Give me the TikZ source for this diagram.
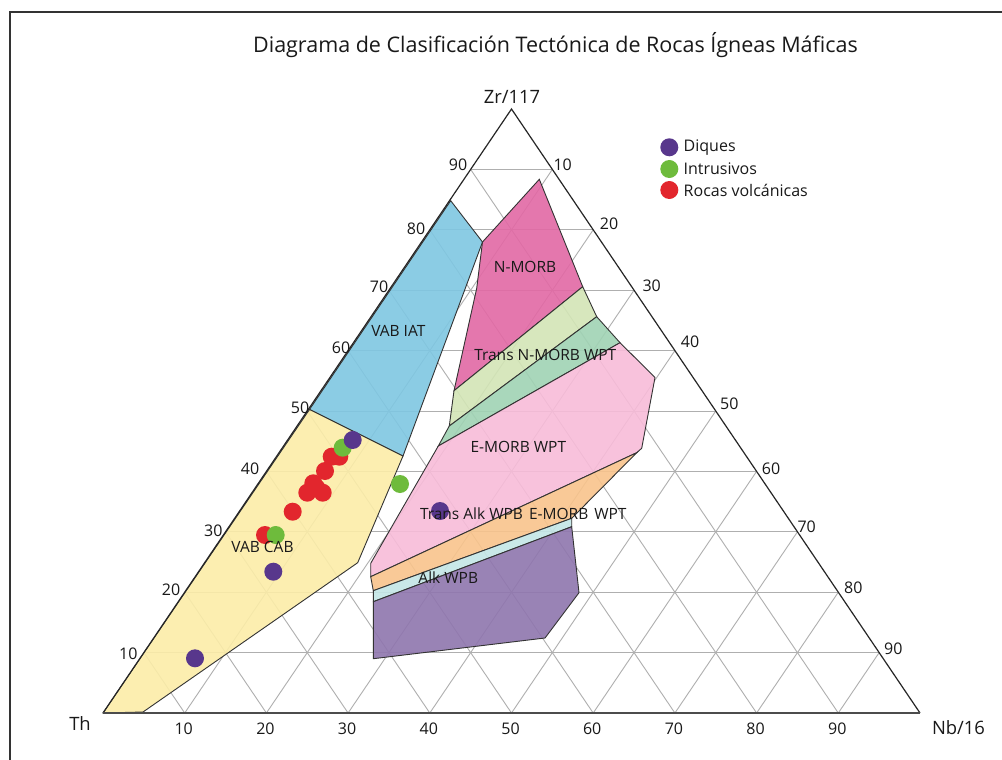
\documentclass[tikz,border=0pt]{standalone}
\usepackage{fontspec}
\setmainfont{Open Sans}
\usetikzlibrary{calc}
\definecolor{cblue}{RGB}{127,199,226}
\definecolor{cyellow}{RGB}{252,237,168}
\definecolor{cmag}{RGB}{226,105,165}
\definecolor{clgreen}{RGB}{211,229,182}
\definecolor{cgreen}{RGB}{160,211,180}
\definecolor{cpink}{RGB}{248,188,217}
\definecolor{corange}{RGB}{249,196,140}
\definecolor{ccyan}{RGB}{196,230,230}
\definecolor{cpurple}{RGB}{143,118,174}
\definecolor{dpurple}{RGB}{88,55,140}
\definecolor{dgreen}{RGB}{110,187,60}
\definecolor{dred}{RGB}{226,38,45}
\definecolor{gridc}{RGB}{175,175,175}
\tikzset{
  region/.style={draw=black!80, line width=0.9pt, fill opacity=0.9},
  gridline/.style={draw=gridc, line width=0.9pt},
  tick/.style={font=\fontsize{16}{18}\selectfont, text=black!90, inner sep=0pt},
  lab/.style={font=\fontsize{15.5}{18}\selectfont, text=black!90, inner sep=0pt},
  axislab/.style={font=\fontsize{18.4}{20}\selectfont, text=black!90, inner sep=0pt},
  dot/.style={circle, inner sep=0pt, minimum size=18pt},
  leg/.style={font=\fontsize{16}{18}\selectfont, text=black!90, inner sep=0pt, anchor=west},
}
\begin{document}
\begin{tikzpicture}[x=1pt,y=-1pt]
\useasboundingbox (0,0) rectangle (1002,760);
\fill[white] (0,0) rectangle (1002,760);
% frame
\draw[black!80, line width=1.6pt] (10,760) -- (10,12) -- (1002,12);
% title
\node[font=\fontsize{21.5}{24}\selectfont, text=black!90, inner sep=0pt] (title) at (555.5,45) {Diagrama de Clasificación Tectónica de Rocas Ígneas Máficas};
% triangle corners
\coordinate (Th) at (103,713);
\coordinate (Nb) at (920,713);
\coordinate (Zr) at (511.5,109);
% grid
\foreach \i in {1,...,9} {
  \draw[gridline] ($(Th)!\i/10!(Zr)$) -- ($(Nb)!\i/10!(Zr)$);
  \draw[gridline] ($(Th)!\i/10!(Nb)$) -- ($(Th)!\i/10!(Zr)$);
  \draw[gridline] ($(Nb)!\i/10!(Th)$) -- ($(Nb)!\i/10!(Zr)$);
}
% regions
\filldraw[region, fill=cblue] (450.7,200.7) -- (482.5,242) -- (403,456) -- (309.5,409.5) -- cycle;
\filldraw[region, fill=cyellow] (103,713) -- (143,712) -- (357.7,562.7) -- (403,456) -- (309.5,409.5) -- cycle;
\filldraw[region, fill=cmag] (539.3,179.3) -- (482.5,242) -- (476.7,288.3) -- (454,390.7) -- (582.7,286.7) -- cycle;
\filldraw[region, fill=clgreen] (454,390.7) -- (582.7,286.7) -- (596.7,316.7) -- (449.3,426) -- cycle;
\filldraw[region, fill=cgreen] (449.3,426) -- (596.7,316.7) -- (620,342.7) -- (438.3,446) -- cycle;
\filldraw[region, fill=cpink] (438.3,446) -- (620,342.7) -- (655,377.5) -- (641.7,448.3) -- (636.7,452.7) -- (370.7,576.7) -- (370.7,563.3) -- cycle;
\filldraw[region, fill=corange] (370.7,576.7) -- (636.7,452.7) -- (571.7,518.3) -- (373.3,590.7) -- cycle;
\filldraw[region, fill=ccyan] (373.3,590.7) -- (571.7,518.3) -- (571.7,526.7) -- (373.3,601.7) -- cycle;
\filldraw[region, fill=cpurple] (373.3,601.7) -- (571.7,526.7) -- (579,592.7) -- (545,638) -- (373.3,658.7) -- cycle;
% triangle
\draw[black!85, line width=1.2pt, line join=miter] (Th) -- (Zr) -- (Nb);
\draw[black!70, line width=2pt] (Th) -- (Nb);
% axis labels
\node[axislab] (zrl) at (512,97) {Zr/117};
\node[axislab] (thl) at (80,724) {Th};
\node[axislab] (nbl) at (958.5,728) {Nb/16};
% left ticks
\node[tick] (l90) at (458,165) {90};
\node[tick] (l80) at (416,229) {80};
\node[tick] (l70) at (379,287) {70};
\node[tick] (l60) at (341,348) {60};
\node[tick] (l50) at (300,408) {50};
\node[tick] (l40) at (250,469) {40};
\node[tick] (l30) at (213.3,530.7) {30};
\node[tick] (l20) at (171,589.3) {20};
\node[tick] (l10) at (128.3,654) {10};
% right ticks
\node[tick] (r10) at (562.7,165) {10};
\node[tick] (r20) at (609,224) {20};
\node[tick] (r30) at (651.7,285.7) {30};
\node[tick] (r40) at (690,341.7) {40};
\node[tick] (r50) at (729.3,403.3) {50};
\node[tick] (r60) at (771,468.3) {60};
\node[tick] (r70) at (806.7,526.7) {70};
\node[tick] (r80) at (853.3,587.3) {80};
\node[tick] (r90) at (893.3,648.3) {90};
% bottom ticks
\foreach \i in {1,...,9} {
  \path ($(Th)!\i/10!(Nb)$) ++(-1,16) node[tick] (b\i) {\the\numexpr\i*10\relax};
}
% data points
\foreach \x/\y [count=\k] in {331.7/456.7, 339.3/456.7, 325/471, 313.3/483.3, 316.5/488, 307.3/492.7, 322.7/492.7, 292.7/511.7, 265/535} {
  \node[dot, fill=dred] (red\k) at (\x,\y) {};
}
\foreach \x/\y [count=\k] in {342.7/447.7, 275.7/535, 400/484} {
  \node[dot, fill=dgreen] (grn\k) at (\x,\y) {};
}
\foreach \x/\y [count=\k] in {352.7/440, 273.3/571.7, 195/658.3, 440/511} {
  \node[dot, fill=dpurple] (pur\k) at (\x,\y) {};
}
% region labels
\node[lab] (vabiat) at (398.3,331) {VAB IAT};
\node[lab] (nmorb) at (525,267.3) {N-MORB};
\node[lab] (tnmorb) at (545.3,355) {Trans N-MORB WPT};
\node[lab] (emorb) at (518.3,446.7) {E-MORB WPT};
\node[lab] (talk) at (523.3,513.3) {Trans Alk WPB\hspace{6pt}E-MORB\hspace{6pt}WPT};
\node[lab] (alk) at (448.3,577.3) {Alk WPB};
\node[lab] (vabcab) at (262.5,547.3) {VAB CAB};
% legend
\node[dot, fill=dpurple] (lg1) at (669.3,147.3) {};
\node[dot, fill=dgreen] (lg2) at (669.3,169) {};
\node[dot, fill=dred] (lg3) at (669.3,190) {};
\node[leg] (lt1) at (683.5,147.3) {Diques};
\node[leg] (lt2) at (683.5,169) {Intrusivos};
\node[leg] (lt3) at (683.5,190) {Rocas volcánicas};
\end{tikzpicture}
\end{document}
